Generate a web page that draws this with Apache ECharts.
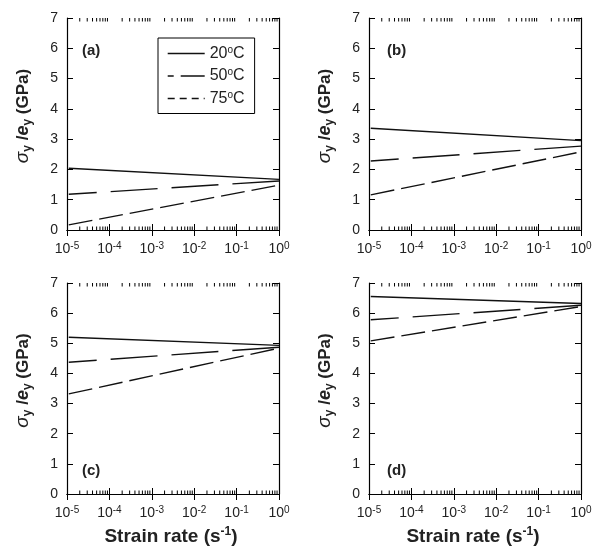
<!DOCTYPE html>
<html>
<head>
<meta charset="utf-8">
<script src="https://cdn.jsdelivr.net/npm/echarts@6/dist/echarts.min.js"></script>
<style>html,body{margin:0;padding:0;background:#fff}#c{width:595px;height:550px}</style>
</head>
<body>
<div id="c"></div>
<script>
// ---- data ----
const temps = ['20°C', '50°C', '75°C'];
const panelLabels = ['(a)', '(b)', '(c)', '(d)'];
const strainRate = [1.1e-5, 1];
const a20 = [2.04, 1.67], a50 = [1.18, 1.62], a75 = [0.17, 1.48];
const b20 = [3.36, 2.95], b50 = [2.28, 2.77], b75 = [1.16, 2.58];
const c20 = [5.20, 4.93], c50 = [4.37, 4.87], c75 = [3.32, 4.84];
const d20 = [6.55, 6.32], d50 = [5.78, 6.26], d75 = [5.08, 6.22];
const yTicks = [0, 1, 2, 3, 4, 5, 6, 7];
const xDecades = [-5, -4, -3, -2, -1, 0];

const panels = [[a20, a50, a75], [b20, b50, b75], [c20, c50, c75], [d20, d50, d75]];

// minor tick positions (2..9 x 10^n)
const minorTicks = [];
for (let n = -5; n < 0; n++) for (let k = 2; k <= 9; k++) minorTicks.push(k * Math.pow(10, n));

const FONT = 'Liberation Sans, Arial, Helvetica, sans-serif';
const grids = [
  {left: 67, top: 18, width: 212, height: 212},
  {left: 369, top: 18, width: 212, height: 212},
  {left: 67, top: 283, width: 212, height: 211},
  {left: 369, top: 283, width: 212, height: 211}
];
const labelPos = [[82, 43], [387, 43], [82, 463], [387, 463]];

const dashStyles = [
  {type: 'solid', dashOffset: 0},
  {type: [47, 14], dashOffset: 19},
  {type: [24, 7], dashOffset: 0}
];

const xAxis = [], yAxis = [], series = [], title = [];
grids.forEach((g, gi) => {
  const bottomPanel = gi >= 2;
  xAxis.push({
    type: 'log', logBase: 10, gridIndex: gi, min: 1e-5, max: 1, position: 'bottom',
    axisLine: {show: true, lineStyle: {color: '#000', width: 1.2}},
    axisTick: {show: true, inside: true, length: 6, lineStyle: {color: '#000', width: 1}},
    splitLine: {show: false},
    axisLabel: {
      show: true, margin: 11, showMinLabel: true, showMaxLabel: true,
      formatter: v => '{b|10}{s|' + Math.round(Math.log10(v)) + '}',
      rich: {
        b: {fontSize: 14, fontFamily: FONT, color: '#222', lineHeight: 17},
        s: {fontSize: 10, fontFamily: FONT, color: '#222', lineHeight: 11, verticalAlign: 'top'}
      }
    },
    name: bottomPanel ? '{n|Strain rate (s}{s|-1}{n|)}' : '',
    nameLocation: 'middle', nameGap: 32,
    nameTextStyle: {
      padding: [0, 4, 0, 0],
      rich: {
        n: {fontSize: 19, fontWeight: 'bold', fontFamily: FONT, color: '#222', lineHeight: 22},
        s: {fontSize: 12, fontWeight: 'bold', fontFamily: FONT, color: '#222', lineHeight: 12, verticalAlign: 'top'}
      }
    }
  });
  xAxis.push({
    type: 'log', logBase: 10, gridIndex: gi, min: 1e-5, max: 1, position: 'top',
    axisLine: {show: true, lineStyle: {color: '#000', width: 1.2}},
    axisTick: {show: true, inside: true, length: 6, lineStyle: {color: '#000', width: 1}},
    axisLabel: {show: false}, splitLine: {show: false}
  });
  yAxis.push({
    type: 'value', gridIndex: gi, min: 0, max: 7, interval: 1, position: 'left',
    axisLine: {show: true, lineStyle: {color: '#000', width: 1.2}},
    axisTick: {show: true, inside: true, length: 6, lineStyle: {color: '#000', width: 1}},
    splitLine: {show: false},
    axisLabel: {show: true, margin: 9, fontSize: 14, fontFamily: FONT, color: '#222'},
    name: '{si|σ}{sub|y}{n| /}{se|e}{sub|y}{n| (GPa)}',
    nameLocation: 'middle', nameRotate: 90, nameGap: 33,
    nameTextStyle: {
      padding: [0, 0, 0, 16],
      rich: {
        si: {fontSize: 19, fontStyle: 'italic', fontFamily: FONT, color: '#222', lineHeight: 22},
        se: {fontSize: 18, fontStyle: 'italic', fontWeight: 'bold', fontFamily: FONT, color: '#222', lineHeight: 22},
        sub: {fontSize: 12, fontWeight: 'bold', fontFamily: FONT, color: '#222', lineHeight: 12, verticalAlign: 'bottom'},
        n: {fontSize: 17, fontWeight: 'bold', fontFamily: FONT, color: '#222', lineHeight: 22}
      }
    }
  });
  yAxis.push({
    type: 'value', gridIndex: gi, min: 0, max: 7, interval: 1, position: 'right',
    axisLine: {show: true, lineStyle: {color: '#000', width: 1.2}},
    axisTick: {show: true, inside: true, length: 6, lineStyle: {color: '#000', width: 1}},
    axisLabel: {show: false}, splitLine: {show: false}
  });
  panels[gi].forEach((vals, ti) => {
    series.push({
      type: 'line', name: temps[ti], xAxisIndex: gi * 2, yAxisIndex: gi * 2,
      data: strainRate.map((x, i) => [x, vals[i]]),
      symbol: 'none', silent: true, animation: false,
      itemStyle: {color: '#111'},
      lineStyle: {color: '#111', width: 1.4, type: dashStyles[ti].type, dashOffset: dashStyles[ti].dashOffset}
    });
  });
  series.push({
    type: 'custom', xAxisIndex: gi * 2, yAxisIndex: gi * 2, silent: true, animation: false,
    data: minorTicks.map(v => [v, 0]),
    encode: {x: 0, y: 1},
    renderItem: (params, api) => {
      const x = api.value(0);
      const b = api.coord([x, 0]);
      const t = api.coord([x, 7]);
      return {type: 'group', children: [
        {type: 'line', shape: {x1: b[0], y1: b[1], x2: b[0], y2: b[1] - 3.5}, style: {stroke: '#000', lineWidth: 1}},
        {type: 'line', shape: {x1: t[0], y1: t[1], x2: t[0], y2: t[1] + 3.5}, style: {stroke: '#000', lineWidth: 1}}
      ]};
    }
  });
  title.push({
    text: panelLabels[gi], left: labelPos[gi][0], top: labelPos[gi][1], padding: 0,
    textStyle: {fontSize: 15, fontWeight: 'bold', fontFamily: FONT, color: '#222'}
  });
});

const legendLine = [
  {type: 'solid'}, {type: [25, 7]}, {type: [7, 5]}
];

const option = {
  animation: false,
  backgroundColor: '#fff',
  title: title,
  grid: grids,
  xAxis: xAxis,
  yAxis: yAxis,
  legend: {
    orient: 'vertical', left: 158, top: 38,
    padding: [7, 10, 7, 9], itemGap: 6, itemWidth: 37, itemHeight: 15,
    borderColor: '#000', borderWidth: 1, backgroundColor: '#fff',
    selectedMode: false,
    data: temps.map((t, i) => ({
      name: t,
      itemStyle: {opacity: 0},
      lineStyle: {color: '#111', width: 1.4, type: legendLine[i].type}
    })),
    formatter: name => '{n|' + name.replace('°C', '') + '}{s|o}{n|C}',
    textStyle: {
      rich: {
        n: {fontSize: 16, fontFamily: FONT, color: '#222', lineHeight: 17},
        s: {fontSize: 10, fontFamily: FONT, color: '#222', lineHeight: 10, verticalAlign: 'top'}
      }
    }
  },
  series: series
};

const chart = echarts.init(document.getElementById('c'), null, {renderer: 'canvas'});
chart.setOption(option);
</script>
</body>
</html>
